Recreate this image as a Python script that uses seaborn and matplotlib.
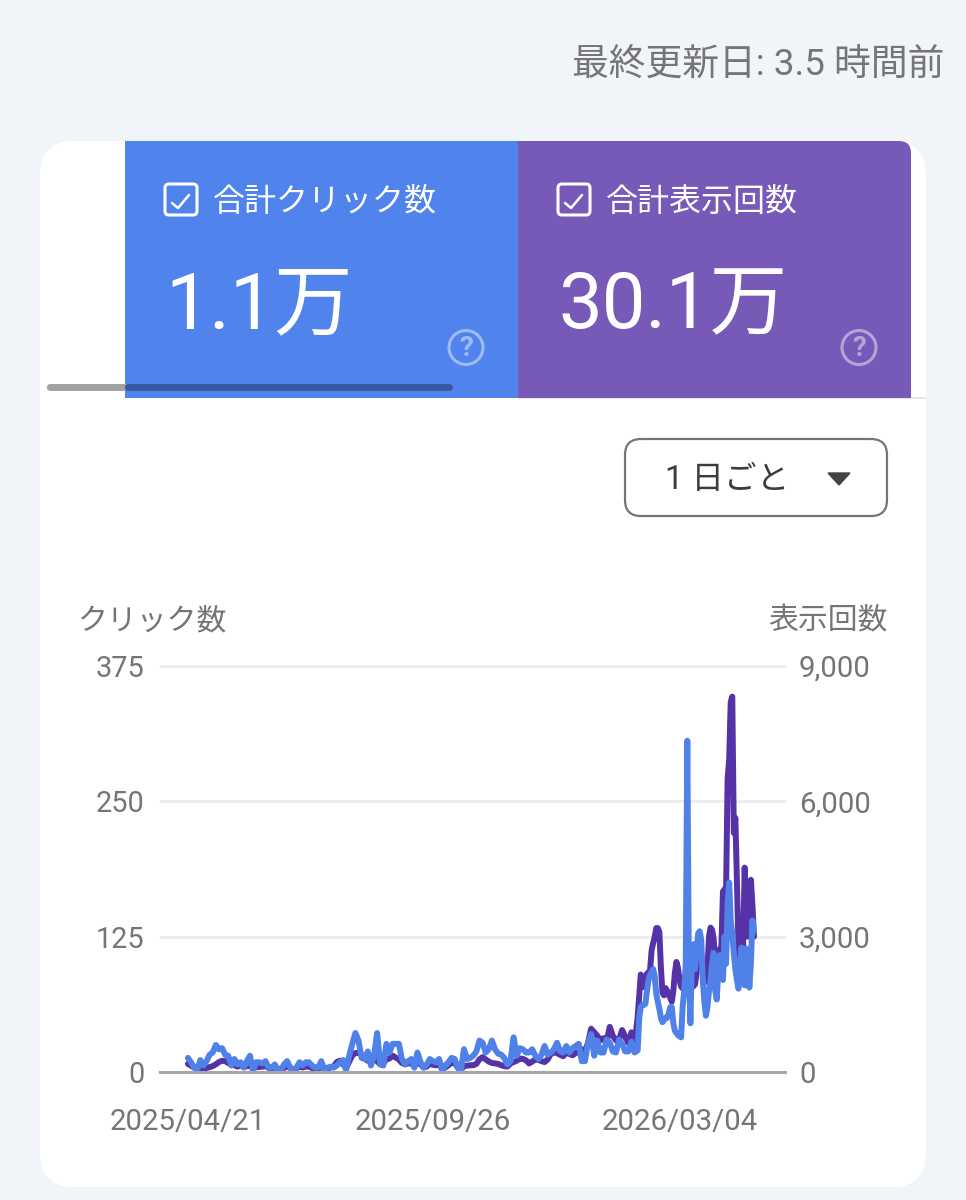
"""
Search Console style performance card, clicks and impressions per day
"""

import matplotlib
matplotlib.use('Agg')
import matplotlib.pyplot as plt
import pandas as pd
import seaborn as sns
from matplotlib.patches import FancyBboxPatch, Rectangle, Circle, Polygon

# sampled every 2 days up to 2026/02/03, daily afterwards
start_date = '2025-04-21'
sample_days = list(range(0, 290, 2)) + list(range(290, 366))

clicks = [
    13, 9, 4, 2, 11, 6, 10, 16, 18, 25,
    21, 22, 16, 15, 6, 12, 7, 9, 4, 10,
    15, 1, 9, 9, 8, 10, 4, 4, 7, 1,
    2, 7, 10, 4, 1, 4, 9, 6, 9, 9,
    6, 4, 4, 10, 2, 4, 5, 4, 6, 9,
    11, 2, 15, 26, 36, 29, 13, 12, 19, 6,
    15, 36, 7, 6, 26, 18, 26, 26, 26, 12,
    7, 10, 12, 4, 18, 9, 4, 7, 12, 10,
    9, 12, 1, 6, 9, 13, 12, 4, 1, 21,
    12, 13, 15, 19, 29, 27, 18, 21, 29, 21,
    17, 16, 13, 7, 10, 32, 15, 22, 21, 18,
    18, 21, 15, 12, 16, 24, 16, 18, 21, 27,
    19, 18, 24, 18, 22, 24, 26, 10, 10, 27,
    35, 15, 29, 18, 18, 30, 27, 19, 18, 30,
    26, 19, 19, 28, 18,
    20, 50, 60, 62, 62, 63, 75, 85, 90, 92,
    95, 88, 72, 65, 58, 50, 46, 48, 50, 50,
    54, 60, 60, 45, 38, 36, 34, 33, 32, 60,
    75, 100, 306, 100, 45, 110, 118, 95, 110, 128,
    130, 122, 85, 65, 52, 60, 75, 85, 100, 110,
    75, 67, 95, 108, 100, 85, 125, 100, 155, 175,
    140, 128, 110, 95, 85, 77, 100, 115, 85, 80,
    114, 112, 78, 100, 140, 130,
]

impressions = [
    180, 140, 100, 90, 80, 80, 90, 110, 130, 170,
    220, 250, 240, 200, 170, 150, 120, 150, 110, 130,
    140, 90, 110, 110, 120, 130, 90, 80, 100, 70,
    70, 90, 120, 90, 60, 80, 120, 100, 120, 120,
    90, 70, 70, 130, 70, 80, 100, 120, 220, 250,
    170, 90, 230, 370, 420, 430, 380, 300, 250, 250,
    280, 240, 170, 200, 280, 300, 360, 320, 280, 200,
    170, 190, 200, 120, 260, 170, 100, 120, 190, 160,
    150, 170, 60, 100, 150, 210, 200, 100, 50, 130,
    140, 150, 150, 180, 280, 330, 280, 230, 200, 190,
    180, 150, 130, 120, 190, 220, 250, 300, 290, 260,
    190, 230, 280, 270, 240, 220, 280, 400, 440, 420,
    380, 350, 430, 400, 370, 420, 450, 500, 460, 650,
    960, 880, 800, 700, 750, 680, 1000, 800, 700, 720,
    930, 780, 640, 880, 620,
    1220, 1700, 2160, 2100, 1880, 2000, 2180, 2200, 2260, 2700,
    2860, 3000, 3190, 3190, 3100, 2300, 1750, 1700, 1860, 1800,
    1710, 1650, 1560, 1800, 2200, 2440, 2300, 2040, 1900, 1850,
    2100, 2000, 2300, 2000, 2100, 2000, 1900, 1950, 2200, 2500,
    2600, 2500, 2300, 2200, 2000, 2300, 3000, 3200, 3150, 2950,
    2500, 2600, 2700, 2650, 2800, 4000, 4050, 4000, 6500, 6930,
    8200, 8320, 5300, 5630, 4200, 2800, 2500, 2200, 2800, 4530,
    3400, 3000, 3300, 4260, 3700, 3000,
]

click_ticks = [0, 125, 250, 375]
impression_ticks = [0, 3000, 6000, 9000]
date_ticks = ['2025-04-21', '2025-09-26', '2026-03-04']
date_labels = ['2025/04/21', '2025/09/26', '2026/03/04']

BG = '#f1f5fa'
BLUE = '#5083ec'
PURPLE = '#7759b8'
LINE_BLUE = '#4f81e8'
LINE_PURPLE = '#5533a6'
GREY = '#757575'
W, H = 966, 1200


def px_rect(left, right, top, bottom):
    """Axes rectangle from pixel edges, y counted from the top"""
    return [left / W, 1 - bottom / H, (right - left) / W, (bottom - top) / H]


def draw_tile(ax, left, right, color, title, total, total_size, check_x, q_x):
    ax.add_patch(Rectangle((left, 141), right - left, 257, color=color, lw=0, zorder=2))
    ax.add_patch(FancyBboxPatch((check_x + 2, 184), 32, 31, boxstyle='round,pad=0,rounding_size=4',
                                fc='none', ec='white', lw=2.2, zorder=3))
    ax.plot([check_x + 9, check_x + 15, check_x + 26], [203, 208, 195], color='white', lw=1.8, zorder=3)
    ax.text(check_x + 50, 201.5, title, color='white', fontsize=23, va='center', ha='left', zorder=3)
    ax.text(check_x + 2, 307, total, color='white', fontsize=total_size, va='center', ha='left', zorder=3)
    ax.add_patch(Circle((q_x, 347.5), 17, fc='none', ec='white', lw=2.2, alpha=0.45, zorder=3))
    ax.text(q_x, 348, '?', color='white', alpha=0.45, fontsize=20, ha='center', va='center',
            fontweight='bold', zorder=3)


def draw_card(ax):
    """Everything around the plot, in pixel coordinates"""
    ax.set_xlim(0, W)
    ax.set_ylim(H, 0)
    ax.axis('off')

    ax.add_patch(FancyBboxPatch((40, 141), 886, 1046, boxstyle='round,pad=0,rounding_size=34',
                                fc='white', ec='none', zorder=1))
    ax.text(944, 65, '最終更新日: 3.5 時間前', color=GREY, fontsize=26.5, ha='right', va='center')

    ax.plot([518, 926], [398, 398], color='#e0e0e0', lw=1.2, zorder=1.5)
    draw_tile(ax, 125, 518, BLUE, '合計クリック数', '1.1万', 56.5, 163, 466)
    draw_tile(ax, 518, 911, PURPLE, '合計表示回数', '30.1万', 56, 556, 859)

    # rounded top right corner of the last tile
    ax.add_patch(Rectangle((899, 141), 12, 12, color='white', lw=0, zorder=2.2))
    ax.add_patch(FancyBboxPatch((880, 141), 31, 40, boxstyle='round,pad=0,rounding_size=12',
                                fc=PURPLE, ec='none', zorder=2.4))

    # horizontal scrollbar over the first tile
    ax.add_patch(FancyBboxPatch((47, 384), 406, 7, boxstyle='round,pad=0,rounding_size=3.5',
                                fc='#a3a3a3', ec='none', zorder=2))
    ax.add_patch(FancyBboxPatch((125, 384), 328, 7, boxstyle='round,pad=0,rounding_size=3.5',
                                fc='#38589f', ec='none', zorder=3))

    # granularity dropdown
    ax.add_patch(FancyBboxPatch((625, 439), 262, 77, boxstyle='round,pad=0,rounding_size=16',
                                fc='white', ec='#757575', lw=1.6, zorder=2))
    ax.text(727, 480, '1 日ごと', color='#3c3c3c', fontsize=23.5, ha='center', va='center', zorder=3)
    ax.add_patch(Polygon([[828, 473], [850, 473], [839, 485]], color='#444444', zorder=3))

    ax.text(77, 621, 'クリック数', color=GREY, fontsize=21.5, ha='left', va='center')
    ax.text(888, 621, '表示回数', color=GREY, fontsize=21.5, ha='right', va='center')


def main():
    sns.set_theme(style='white')
    plt.rcParams['font.family'] = ['Roboto', 'Noto Sans CJK JP', 'DejaVu Sans']

    dates = pd.Timestamp(start_date) + pd.to_timedelta(sample_days, unit='D')
    df = pd.DataFrame({'date': dates, 'clicks': clicks, 'impressions': impressions})

    fig = plt.figure(figsize=(9.66, 12), dpi=100, facecolor=BG)
    bg = fig.add_axes([0, 0, 1, 1])
    draw_card(bg)

    ax = fig.add_axes(px_rect(160, 785, 666, 1072))
    ax.patch.set_alpha(0)
    ax2 = ax.twinx()

    # impressions go under the clicks, so the right axis is drawn first
    ax.set_zorder(2)
    ax2.set_zorder(1)

    sns.lineplot(data=df, x='date', y='impressions', ax=ax2, color=LINE_PURPLE, lw=4.3,
                 solid_joinstyle='round')
    sns.lineplot(data=df, x='date', y='clicks', ax=ax, color=LINE_BLUE, lw=4.3,
                 solid_joinstyle='round')

    ax.set_ylim(0, 375)
    ax2.set_ylim(0, 9000)
    ax.set_xlim(pd.Timestamp('2025-04-03'), pd.Timestamp('2026-05-11'))

    ax.set_yticks(click_ticks)
    ax2.set_yticks(impression_ticks)
    ax2.set_yticklabels([f'{v:,}' for v in impression_ticks])
    ax.set_xticks(pd.to_datetime(date_ticks))
    ax.set_xticklabels(date_labels)
    ax.set_xlabel('')
    ax.set_ylabel('')
    ax2.set_ylabel('')

    ax2.grid(False)
    for v in click_ticks[1:]:
        ax2.axhline(v * 24, color='#eeeeee', lw=2, zorder=0, clip_on=False)
    ax.tick_params(axis='y', length=0, pad=11, labelsize=20.8, labelcolor=GREY)
    ax.tick_params(axis='x', length=0, pad=26, labelsize=21.2, labelcolor=GREY)
    ax2.tick_params(axis='y', length=0, pad=10, labelsize=21.2, labelcolor=GREY)

    for a in (ax, ax2):
        for name, spine in a.spines.items():
            spine.set_visible(False)
    ax.spines['bottom'].set_visible(True)
    ax.spines['bottom'].set_color('#a6a6a6')
    ax.spines['bottom'].set_linewidth(2.2)

    fig.savefig('out.png', dpi=100, facecolor=BG)


if __name__ == "__main__":
    main()
